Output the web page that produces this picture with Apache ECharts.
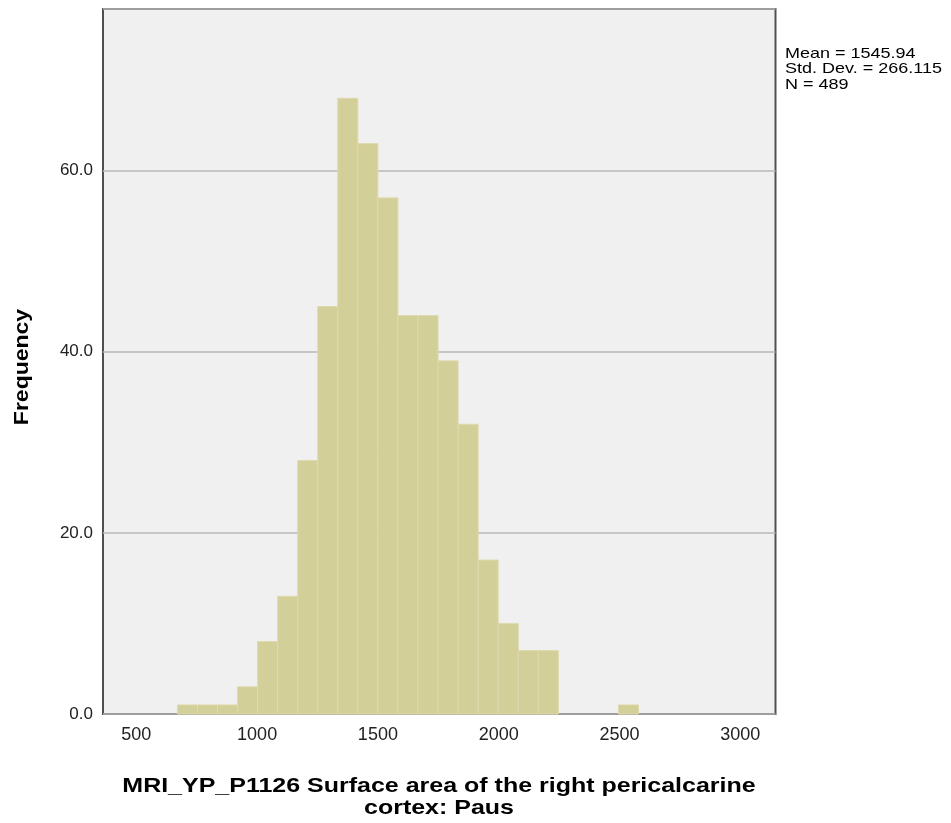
<!DOCTYPE html>
<html>
<head>
<meta charset="utf-8">
<script src="https://cdn.jsdelivr.net/npm/echarts@6/dist/echarts.min.js"></script>
<style>html,body{margin:0;padding:0;background:#fff;}#c{width:951px;height:823px;}</style>
</head>
<body>
<div id="c"></div>
<script>
// Histogram bins (lower edges), bin width and counts
const binLow = [670, 753, 836, 919, 1002, 1085, 1168, 1251, 1334, 1417, 1500, 1583, 1666, 1749, 1832, 1915, 1998, 2081, 2164, 2247, 2330, 2413, 2496];
const binWidth = 83;
const counts = [1, 1, 1, 3, 8, 13, 28, 45, 68, 63, 57, 44, 44, 39, 32, 17, 10, 7, 7, 0, 0, 0, 1];
const xTicks = [500, 1000, 1500, 2000, 2500, 3000];
const yTicks = [0, 20, 40, 60];
const statsLines = ['Mean = 1545.94', 'Std. Dev. = 266.115', 'N = 489'];
const xTitle = 'MRI_YP_P1126 Surface area of the right pericalcarine\ncortex: Paus';
const yTitle = 'Frequency';

const FONT = 'Liberation Sans, Arial, sans-serif';
const data = binLow.map((lo, i) => [lo, lo + binWidth, counts[i]]).filter(d => d[2] > 0);

const chart = echarts.init(document.getElementById('c'), null, {renderer: 'canvas'});
chart.setOption({
  animation: false,
  backgroundColor: '#ffffff',
  textStyle: {fontFamily: FONT},
  grid: {left: 103, top: 9, right: 175.5, bottom: 109, show: true, backgroundColor: '#f0f0f0', borderColor: '#505050', borderWidth: 2},
  xAxis: {
    type: 'value', min: 362, max: 3146,
    axisLine: {show: false}, axisTick: {show: false}, splitLine: {show: false},
    axisLabel: {customValues: xTicks, formatter: v => String(v), color: '#222', fontSize: 18, margin: 12, fontFamily: FONT}
  },
  yAxis: {
    type: 'value', min: 0, max: 77.86, interval: 20,
    axisLine: {show: false}, axisTick: {show: false},
    splitLine: {show: true, lineStyle: {color: '#b8b8b8', width: 1.5}},
    axisLabel: {customValues: yTicks, formatter: v => v.toFixed(1), color: '#222', fontSize: 17, margin: 10, fontFamily: FONT}
  },
  graphic: [
    {
      type: 'text', x: 785, y: 46, scaleX: 1.2,
      style: {x: 0, y: 0, text: statsLines.join('\n'), fontSize: 15, lineHeight: 15.5, fill: '#000', fontFamily: FONT, verticalAlign: 'top'}
    },
    {
      type: 'text', x: 439, y: 797, scaleX: 1.19,
      style: {x: 0, y: 0, text: xTitle, fontSize: 21, fontWeight: 'bold', lineHeight: 21.5, fill: '#000', fontFamily: FONT, align: 'center', verticalAlign: 'middle'}
    },
    {
      type: 'text', x: 22, y: 367, rotation: Math.PI / 2, scaleX: 1.15,
      style: {x: 0, y: 0, text: yTitle, fontSize: 20, fontWeight: 'bold', fill: '#000', fontFamily: FONT, align: 'center', verticalAlign: 'middle'}
    }
  ],
  series: [{
    type: 'custom',
    data: data,
    encode: {x: [0, 1], y: 2},
    renderItem: function (params, api) {
      const p0 = api.coord([api.value(0), api.value(2)]);
      const p1 = api.coord([api.value(1), 0]);
      return {
        type: 'rect',
        shape: {x: p0[0], y: p0[1], width: p1[0] - p0[0], height: p1[1] - p0[1]},
        style: {fill: '#d3cf98', stroke: '#dedaae', lineWidth: 1}
      };
    }
  }]
});
</script>
</body>
</html>
